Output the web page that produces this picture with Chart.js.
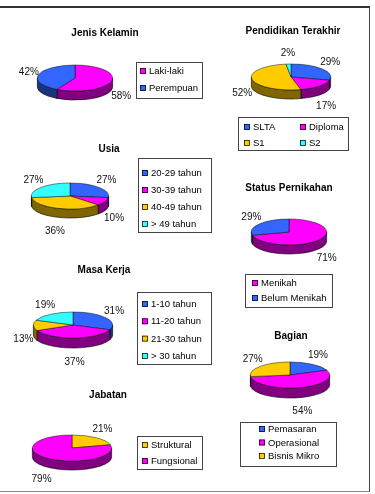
<!DOCTYPE html>
<html>
<head>
<meta charset="utf-8">
<script src="https://cdn.jsdelivr.net/npm/chart.js@4.4.0/dist/chart.umd.min.js"></script>
<style>
body { margin: 0; background: #fff; }
#wrap { position: relative; width: 375px; height: 494px; overflow: hidden; }
#frame { position: absolute; left: -2px; top: 6px; width: 371px; height: 483px;
  border-top: 2px solid #333; border-right: 1px solid #444; border-bottom: 1px solid #888; }
canvas { position: absolute; left: 0; top: 0; }
</style>
</head>
<body>
<div id="wrap">
  <div id="frame"></div>
  <canvas id="jenis" width="375" height="494"></canvas>
  <canvas id="pendidikan" width="375" height="494"></canvas>
  <canvas id="usia" width="375" height="494"></canvas>
  <canvas id="status" width="375" height="494"></canvas>
  <canvas id="masa" width="375" height="494"></canvas>
  <canvas id="jabatan" width="375" height="494"></canvas>
  <canvas id="bagian" width="375" height="494"></canvas>
</div>
<script>
/* ---- data ---- */
const jenisLabels = ["Laki-laki", "Perempuan"];
const jenisValues = [58, 42];

const pendidikanLabels = ["SLTA", "Diploma", "S1", "S2"];
const pendidikanValues = [29, 17, 52, 2];

const usiaLabels = ["20-29 tahun", "30-39 tahun", "40-49 tahun", "> 49 tahun"];
const usiaValues = [27, 10, 36, 27];

const statusLabels = ["Menikah", "Belum Menikah"];
const statusValues = [71, 29];

const masaLabels = ["1-10 tahun", "11-20 tahun", "21-30 tahun", "> 30 tahun"];
const masaValues = [31, 37, 13, 19];

const jabatanLabels = ["Struktural", "Fungsional"];
const jabatanValues = [21, 79];

const bagianLabels = ["Pemasaran", "Operasional", "Bisnis Mikro"];
const bagianValues = [19, 54, 27];

/* ---- colours (top face / side) ---- */
const BLUE = ["#3366FF", "#1A3380"];
const MAGENTA = ["#FF00FF", "#800080"];
const YELLOW = ["#FFCC00", "#806600"];
const CYAN = ["#33FFFF", "#1A8080"];

const FONT = "'Liberation Sans', Arial, sans-serif";

/* ---- 3d pie plugin: side walls, squashed top, labels, title, legend ---- */
const pie3d = {
  id: "pie3d",
  beforeDatasetsDraw(chart, args, o) {
    const ctx = chart.ctx;
    const meta = chart.getDatasetMeta(0);
    const a0 = meta.data[0];
    const cx = a0.x, cy = a0.y, rx = a0.outerRadius, ry = o.ry;
    ctx.save();
    // side walls (front half only)
    meta.data.forEach((a, i) => {
      const s = Math.max(a.startAngle, 0);
      const e = Math.min(a.endAngle, Math.PI);
      if (e <= s) return;
      ctx.beginPath();
      ctx.ellipse(cx, cy, rx, ry, 0, s, e);
      ctx.lineTo(cx + rx * Math.cos(e), cy + ry * Math.sin(e) + o.depth);
      ctx.ellipse(cx, cy + o.depth, rx, ry, 0, e, s, true);
      ctx.closePath();
      ctx.fillStyle = o.sides[i];
      ctx.fill();
      ctx.lineWidth = 0.6;
      ctx.strokeStyle = "#000";
      ctx.stroke();
    });
    // squash the top face into an ellipse
    ctx.translate(cx, cy);
    ctx.scale(1, ry / rx);
    ctx.translate(-cx, -cy);
  },
  afterDatasetsDraw(chart) {
    chart.ctx.restore();
  },
  afterDraw(chart, args, o) {
    const ctx = chart.ctx;
    const meta = chart.getDatasetMeta(0);
    const ds = chart.data.datasets[0];
    const total = ds.data.reduce((s, v) => s + v, 0);
    const a0 = meta.data[0];
    const cx = a0.x, cy = a0.y, rx = a0.outerRadius;
    ctx.save();
    // percentage labels
    ctx.font = "10px " + FONT;
    ctx.fillStyle = "#111";
    ctx.textAlign = "center";
    ctx.textBaseline = "middle";
    meta.data.forEach((a, i) => {
      const m = (a.startAngle + a.endAngle) / 2;
      const x = cx + (rx + 10) * Math.cos(m);
      let y = cy + (o.ry + 11) * Math.sin(m);
      if (Math.sin(m) > 0) y += o.depth + 3;
      ctx.fillText(Math.round(ds.data[i] / total * 100) + "%", x, y);
    });
    // title
    ctx.font = "bold 10px " + FONT;
    ctx.fillStyle = "#000";
    ctx.fillText(o.title.text, o.title.x, o.title.y);
    // legend
    const lg = o.legend;
    ctx.lineWidth = 1;
    ctx.strokeStyle = "#444";
    ctx.strokeRect(lg.x + 0.5, lg.y + 0.5, lg.w, lg.h);
    ctx.font = "9.5px " + FONT;
    ctx.textAlign = "left";
    chart.data.labels.forEach((lab, i) => {
      const col = i % lg.cols, row = Math.floor(i / lg.cols);
      const mx = lg.mx + col * (lg.colW || 0);
      const my = lg.my + row * lg.rowH;
      ctx.fillStyle = ds.backgroundColor[i];
      ctx.fillRect(mx, my - 3, 6, 6);
      ctx.strokeStyle = "#000";
      ctx.lineWidth = 0.7;
      ctx.strokeRect(mx + 0.5, my - 2.5, 5, 5);
      ctx.fillStyle = "#000";
      ctx.fillText(lab, mx + 9, my + 0.5);
    });
    ctx.restore();
  }
};

function make3dPie(id, labels, values, colors, pie, title, legend) {
  const W = 375, H = 494;
  new Chart(document.getElementById(id), {
    type: "pie",
    data: {
      labels: labels,
      datasets: [{
        data: values,
        backgroundColor: colors.map(c => c[0]),
        borderColor: "#000",
        borderWidth: 0.7,
        clip: false
      }]
    },
    options: {
      responsive: false,
      animation: false,
      events: [],
      layout: {
        padding: {
          left: pie.cx - pie.rx,
          right: W - (pie.cx + pie.rx),
          top: pie.cy - pie.rx,
          bottom: H - (pie.cy + pie.rx)
        }
      },
      plugins: {
        legend: { display: false },
        tooltip: { enabled: false },
        pie3d: {
          ry: pie.ry,
          depth: pie.depth,
          sides: colors.map(c => c[1]),
          title: title,
          legend: legend
        }
      }
    },
    plugins: [pie3d]
  });
}

make3dPie("jenis", jenisLabels, jenisValues, [MAGENTA, BLUE],
  { cx: 75, cy: 78, rx: 38, ry: 13, depth: 9 },
  { text: "Jenis Kelamin", x: 105, y: 33 },
  { x: 136, y: 62, w: 66, h: 36, mx: 140, my: 71, rowH: 17, cols: 1 });

make3dPie("pendidikan", pendidikanLabels, pendidikanValues, [BLUE, MAGENTA, YELLOW, CYAN],
  { cx: 291, cy: 77, rx: 40, ry: 13, depth: 9 },
  { text: "Pendidikan Terakhir", x: 293, y: 31 },
  { x: 238, y: 117, w: 110, h: 33, mx: 244, my: 127, rowH: 16, cols: 2, colW: 56 });

make3dPie("usia", usiaLabels, usiaValues, [BLUE, MAGENTA, YELLOW, CYAN],
  { cx: 70, cy: 196, rx: 39, ry: 13, depth: 9 },
  { text: "Usia", x: 109, y: 149 },
  { x: 138, y: 158, w: 73, h: 74, mx: 142, my: 173, rowH: 17, cols: 1 });

make3dPie("status", statusLabels, statusValues, [MAGENTA, BLUE],
  { cx: 289, cy: 232, rx: 38, ry: 13, depth: 9 },
  { text: "Status Pernikahan", x: 289, y: 188 },
  { x: 245, y: 274, w: 87, h: 33, mx: 252, my: 283, rowH: 15, cols: 1 });

make3dPie("masa", masaLabels, masaValues, [BLUE, MAGENTA, YELLOW, CYAN],
  { cx: 73, cy: 325, rx: 40, ry: 13, depth: 10 },
  { text: "Masa Kerja", x: 104, y: 270 },
  { x: 137, y: 292, w: 74, h: 72, mx: 142, my: 304, rowH: 17.3, cols: 1 });

make3dPie("jabatan", jabatanLabels, jabatanValues, [YELLOW, MAGENTA],
  { cx: 72, cy: 448, rx: 40, ry: 13, depth: 9 },
  { text: "Jabatan", x: 108, y: 395 },
  { x: 137, y: 436, w: 65, h: 33, mx: 142, my: 445, rowH: 16, cols: 1 });

make3dPie("bagian", bagianLabels, bagianValues, [BLUE, MAGENTA, YELLOW],
  { cx: 290, cy: 375, rx: 40, ry: 13, depth: 10 },
  { text: "Bagian", x: 291, y: 336 },
  { x: 240, y: 422, w: 96, h: 44, mx: 259, my: 429, rowH: 13.5, cols: 1 });
</script>
</body>
</html>
